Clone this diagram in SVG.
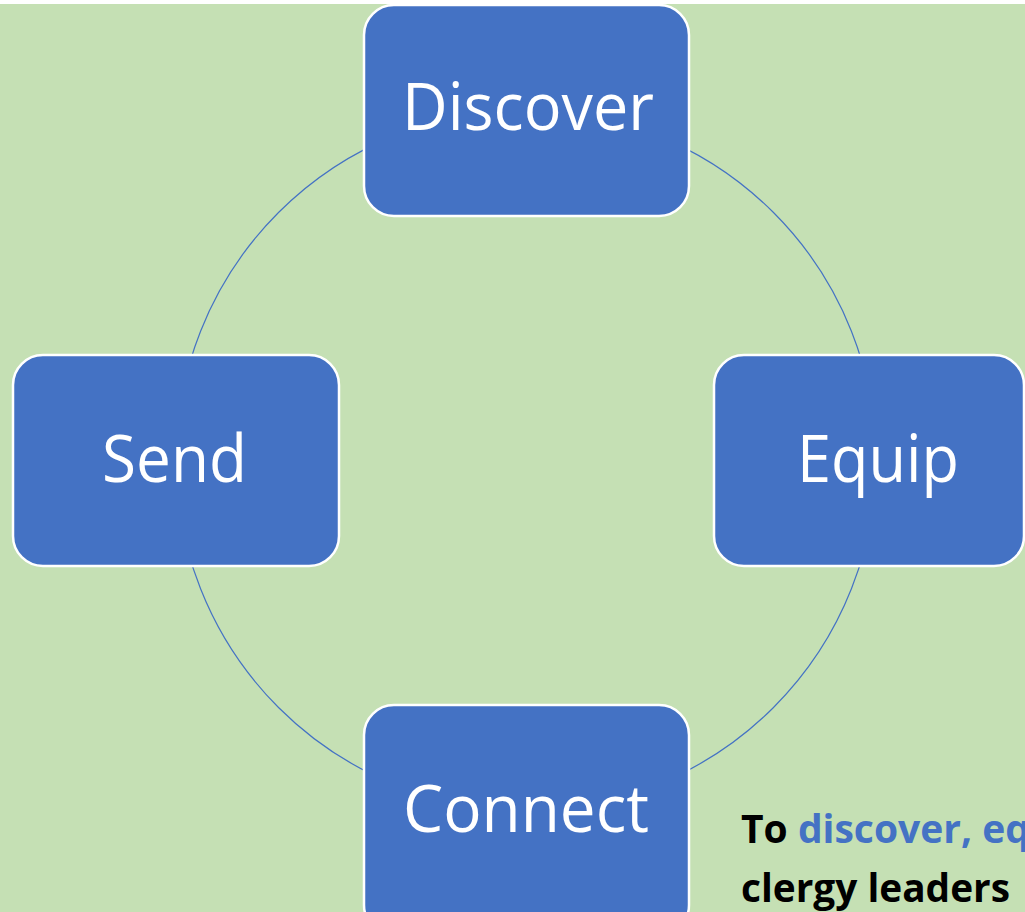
<svg xmlns="http://www.w3.org/2000/svg" width="1025" height="912" viewBox="0 0 1025 912">
<style>
.box{fill:#4472C4;stroke:#FFFFFF;stroke-width:2.5}
.lbl{font-family:"Open Sans","Liberation Sans",sans-serif;font-size:66px;fill:#FFFFFF}
.cap{font-family:"Open Sans","Liberation Sans",sans-serif;font-size:39px;font-weight:bold;fill:#000000}
.blue{fill:#4472C4}
</style>
<rect x="0" y="0" width="1025" height="912" fill="#FFFFFF"/>
<rect x="0" y="4" width="1025" height="908" fill="#C5E0B4"/>
<g id="connectors">
<circle cx="526" cy="460" r="350" fill="none" stroke="#4472C4" stroke-width="1.2"/>
</g>
<g id="discover">
<rect class="box" x="364" y="5" width="325" height="211" rx="30"/>
<text class="lbl" x="402" y="130" textLength="252" lengthAdjust="spacingAndGlyphs">Discover</text>
</g>
<g id="send">
<rect class="box" x="13" y="355" width="326" height="211" rx="30"/>
<text class="lbl" x="102" y="482" textLength="145" lengthAdjust="spacingAndGlyphs">Send</text>
</g>
<g id="equip">
<rect class="box" x="714" y="355" width="310" height="211" rx="30"/>
<text class="lbl" x="797" y="482" textLength="162" lengthAdjust="spacingAndGlyphs">Equip</text>
</g>
<g id="connect">
<rect class="box" x="364" y="705" width="325" height="230" rx="30"/>
<text class="lbl" x="403" y="832" textLength="246" lengthAdjust="spacingAndGlyphs">Connect</text>
</g>
<g id="caption">
<text class="cap" x="741" y="843">To <tspan class="blue">discover, eq</tspan></text>
<text class="cap" x="741" y="902" textLength="269" lengthAdjust="spacingAndGlyphs">clergy leaders</text>
</g>
</svg>
